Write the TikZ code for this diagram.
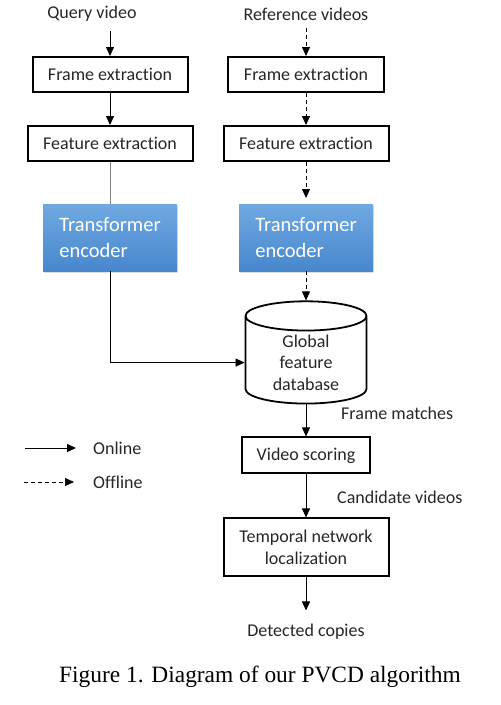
\documentclass[tikz,border=0pt]{standalone}
\usepackage{fontspec}
\setmainfont{Carlito}[Ligatures=NoCommon]
\newfontfamily\capfont{Liberation Serif}
\usetikzlibrary{shapes.geometric, arrows.meta, positioning, shadows}
\definecolor{enctop}{HTML}{70A9E1}
\definecolor{encbot}{HTML}{4887CE}
\definecolor{inkgray}{HTML}{262626}

\begin{document}
\begin{tikzpicture}[
    x=1pt, y=-1pt,
    font=\fontsize{18}{21.5}\selectfont,
    box/.style={rectangle, draw=black, line width=2pt, minimum height=35pt, text=inkgray, inner sep=2pt},
    encoder/.style={rectangle, top color=enctop, bottom color=encbot, text=white, font=\fontsize{20.5}{26}\selectfont, align=left, minimum width=134pt, minimum height=67pt, drop shadow={opacity=0.25, shadow xshift=1pt, shadow yshift=-1.5pt}},
    dbase/.style={cylinder, shape border rotate=90, aspect=0.4, draw=black, line width=1.8pt, minimum width=121pt, minimum height=98pt, align=center, text=inkgray},
    arrow/.style={-{Triangle[length=9pt, width=8pt]}, line width=0.8pt},
    offline/.style={arrow, dash pattern=on 4pt off 3pt},
    txt/.style={text=inkgray, inner sep=1pt}
]
\useasboundingbox (0,0) rectangle (501,705);

% query side
\node[txt] (qv) at (92,14) {Query video};
\node[box, minimum width=155pt] (fr1) at (110,74.5) {Frame extraction};
\node[box, minimum width=165pt, below=32pt of fr1] (fe1) {Feature extraction};
\node[encoder, below=42pt of fe1] (te1) {Transformer\\encoder};

% reference side
\node[txt] (rv) at (306,14) {Reference videos};
\node[box, minimum width=156pt] (fr2) at (306,74.5) {Frame extraction};
\node[box, minimum width=165pt, below=32pt of fr2] (fe2) {Feature extraction};
\node[encoder, below=42pt of fe2] (te2) {Transformer\\encoder};

% matching
\node[dbase, below=29pt of te2] (db) {Global\\feature\\database};
\node[box, minimum width=128pt, minimum height=36pt, below=32pt of db] (vs) {Video scoring};
\node[box, minimum width=165pt, minimum height=58pt, align=center, below=43pt of vs] (tn) {Temporal network\\localization};
\node[txt, below=45pt of tn] (dc) {Detected copies};

\node[txt, anchor=west] (fm) at (340,413) {Frame matches};
\node[txt, anchor=west] (cv) at (336,497) {Candidate videos};

\draw[arrow] ([yshift=-8pt]qv.south -| fr1.north) -- (fr1.north);
\draw[arrow] (fr1) -- (fe1);
\draw[gray, line width=0.8pt] (fe1) -- (te1);
\draw[arrow] (te1) |- (db);

\draw[offline, shorten <=6pt] (rv) -- (fr2);
\draw[offline] (fr2) -- (fe2);
\draw[offline, shorten >=6pt] (fe2) -- (te2);
\draw[offline] (te2) -- (db);

\draw[arrow] (db) -- (vs);
\draw[arrow] (vs) -- (tn);
\draw[arrow, shorten >=12pt] (tn) -- (dc);

% legend
\coordinate (on0) at (25,448);
\coordinate (on1) at (76,448);
\node[txt, anchor=west] (onl) at (92,448) {Online};
\draw[arrow] (on0) -- (on1);
\coordinate (off0) at (24,482);
\coordinate (off1) at (74,482);
\node[txt, anchor=west] (offl) at (92,482) {Offline};
\draw[offline, line width=0.7pt] (off0) -- (off1);

\node[font=\capfont\fontsize{23.4}{28}\selectfont] (cap) at (260,677) {Figure 1. Diagram of our PVCD algorithm};

\end{tikzpicture}
\end{document}
